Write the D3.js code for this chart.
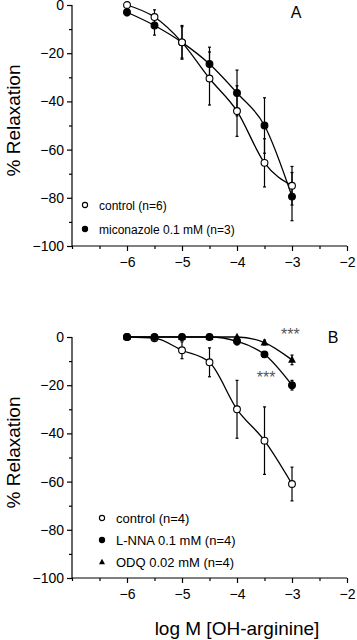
<!DOCTYPE html>
<html>
<head>
<meta charset="utf-8">
<script src="https://cdn.jsdelivr.net/npm/d3@7"></script>
<style>
  body { margin: 0; background: #fff; }
  svg { display: block; font-family: Arial, "Liberation Sans", sans-serif; }
</style>
</head>
<body>
<svg id="chart" width="357" height="640"></svg>
<script>
// log M concentrations, shared by both panels
var xVals = [-6, -5.5, -5, -4.5, -4, -3.5, -3];
var xTicks = [-6, -5, -4, -3, -2];
var yTicks = [0, -20, -40, -60, -80, -100];

// panel A
var aControl = [0, -5, -15.5, -30.5, -44, -65.5, -75];
var aControlErr = [0, 3, 7, 11, 10.5, 10, 8];
var aMicon = [-3, -8.5, -15.5, -24.5, -36.5, -50, -79.5];
var aMiconErr = [1.5, 4, 6.5, 7, 9.5, 11.5, 10];

// panel B
var bControl = [0, -0.5, -5.5, -10.5, -30, -43, -61];
var bControlErr = [0, 0.5, 3.5, 6, 12, 14, 7];
var bLnna = [0, 0, 0, 0, -1.8, -7.2, -20];
var bLnnaErr = [0, 0, 0, 0, 1.5, 1, 2];
var bOdq = [0, 0, 0, 0, 0, -2.3, -9.5];
var bOdqErr = [0, 0, 0, 0, 0, 1, 2];

// significance marks in panel B (data coords)
var bStars = [{ x: -3.03, y: 2.6, t: "***" }, { x: -3.47, y: -15.5, t: "***" }];

var svg = d3.select("#chart");

function drawMarker(g, type, cx, cy, r) {
    if (type == "tri") {
        var h = r * 2.1;
        g.append("path")
            .attr("d", `M${cx},${cy - h * 0.6}L${cx + h * 0.55},${cy + h * 0.4}L${cx - h * 0.55},${cy + h * 0.4}Z`)
            .attr("fill", "#000");
    } else {
        g.append("circle").attr("cx", cx).attr("cy", cy).attr("r", r)
            .attr("fill", type == "open" ? "#fff" : "#000")
            .attr("stroke", "#000").attr("stroke-width", 1.1);
    }
}

function drawPanel(top, bottom, series, legend, letter, stars) {
    var x = d3.scaleLinear().domain([-7, -2]).range([72, 347]);
    var y = d3.scaleLinear().domain([-100, 0]).range([bottom, top]);
    var g = svg.append("g");

    // axes: major ticks with labels, then minor ticks
    var xAxis = d3.axisBottom(x).tickValues(xTicks).tickSize(5).tickFormat(d3.format("d"));
    var xg = g.append("g").attr("transform", `translate(0,${bottom})`).call(xAxis);
    xg.select(".domain").attr("d", `M72,0H347`);
    g.append("g").attr("transform", `translate(0,${bottom})`)
        .call(d3.axisBottom(x).tickValues(d3.range(-6.5, -2, 1).concat([-7])).tickSize(3).tickFormat(""))
        .select(".domain").remove();

    var yg = g.append("g").attr("transform", "translate(72,0)")
        .call(d3.axisLeft(y).tickValues(yTicks).tickSize(5).tickFormat(d3.format("d")));
    yg.select(".domain").attr("d", `M0,${bottom}V${top}`);
    g.append("g").attr("transform", "translate(72,0)")
        .call(d3.axisLeft(y).tickValues(d3.range(-90, 0, 20)).tickSize(3).tickFormat(""))
        .select(".domain").remove();

    g.selectAll(".domain, .tick line").attr("stroke", "#000").attr("stroke-width", 1.2);
    g.selectAll(".tick text").attr("font-size", 14).attr("fill", "#000")
        .attr("font-family", "Arial, 'Liberation Sans', sans-serif");
    xg.selectAll(".tick text").attr("dy", "0.95em");
    yg.selectAll(".tick text").attr("x", -8);

    // y label
    g.append("text")
        .attr("transform", `translate(20,${(top + bottom) / 2 - 5}) rotate(-90)`)
        .attr("text-anchor", "middle").attr("font-size", 19).text("% Relaxation");

    var line = d3.line().x(d => x(d[0])).y(d => y(d[1])).curve(d3.curveMonotoneX);

    series.forEach(s => {
        var pts = xVals.map((v, i) => [v, s.vals[i]]);
        g.append("path").attr("d", line(pts)).attr("fill", "none")
            .attr("stroke", "#000").attr("stroke-width", 1.3);
        pts.forEach((p, i) => {
            var e = s.err[i];
            if (e > 0) {
                var cx = x(p[0]);
                g.append("line").attr("x1", cx).attr("x2", cx)
                    .attr("y1", y(p[1] + e)).attr("y2", y(p[1] - e))
                    .attr("stroke", "#000").attr("stroke-width", 1.2);
                [p[1] + e, p[1] - e].forEach(v => {
                    g.append("line").attr("x1", cx - 1.5).attr("x2", cx + 1.5)
                        .attr("y1", y(v)).attr("y2", y(v))
                        .attr("stroke", "#000").attr("stroke-width", 1.2);
                });
            }
        });
    });
    // markers on top of all lines
    series.forEach(s => {
        xVals.forEach((v, i) => drawMarker(g, s.type, x(v), y(s.vals[i]), 3.4));
    });

    // legend
    legend.items.forEach((it, i) => {
        var ly = legend.y + i * legend.step;
        drawMarker(g, it.type, legend.x, ly, 2.6);
        g.append("text").attr("x", legend.x + 14).attr("y", ly + 4.5)
            .attr("font-size", legend.size).text(it.label);
    });

    g.append("text").attr("x", letter.x).attr("y", letter.y)
        .attr("text-anchor", "middle").attr("font-size", 16).text(letter.t);

    (stars || []).forEach(st => {
        g.append("text").attr("x", x(st.x)).attr("y", y(st.y) + 9)
            .attr("text-anchor", "middle").attr("font-size", 16)
            .attr("fill", "#555").text(st.t);
    });

    return { x: x, y: y };
}

drawPanel(5, 246, [
    { vals: aMicon, err: aMiconErr, type: "filled" },
    { vals: aControl, err: aControlErr, type: "open" }
], {
    x: 85, y: 205, step: 24, size: 12,
    items: [{ type: "open", label: "control (n=6)" }, { type: "filled", label: "miconazole 0.1 mM (n=3)" }]
}, { t: "A", x: 296, y: 18 });

drawPanel(337, 578, [
    { vals: bControl, err: bControlErr, type: "open" },
    { vals: bLnna, err: bLnnaErr, type: "filled" },
    { vals: bOdq, err: bOdqErr, type: "tri" }
], {
    x: 102, y: 518, step: 22, size: 13,
    items: [{ type: "open", label: "control (n=4)" }, { type: "filled", label: "L-NNA 0.1 mM (n=4)" }, { type: "tri", label: "ODQ 0.02 mM (n=4)" }]
}, { t: "B", x: 333, y: 343 }, bStars);

// x axis title, bottom panel only
svg.append("text").attr("x", 237).attr("y", 635).attr("text-anchor", "middle")
    .attr("font-size", 19).text("log M [OH-arginine]");
</script>
</body>
</html>
